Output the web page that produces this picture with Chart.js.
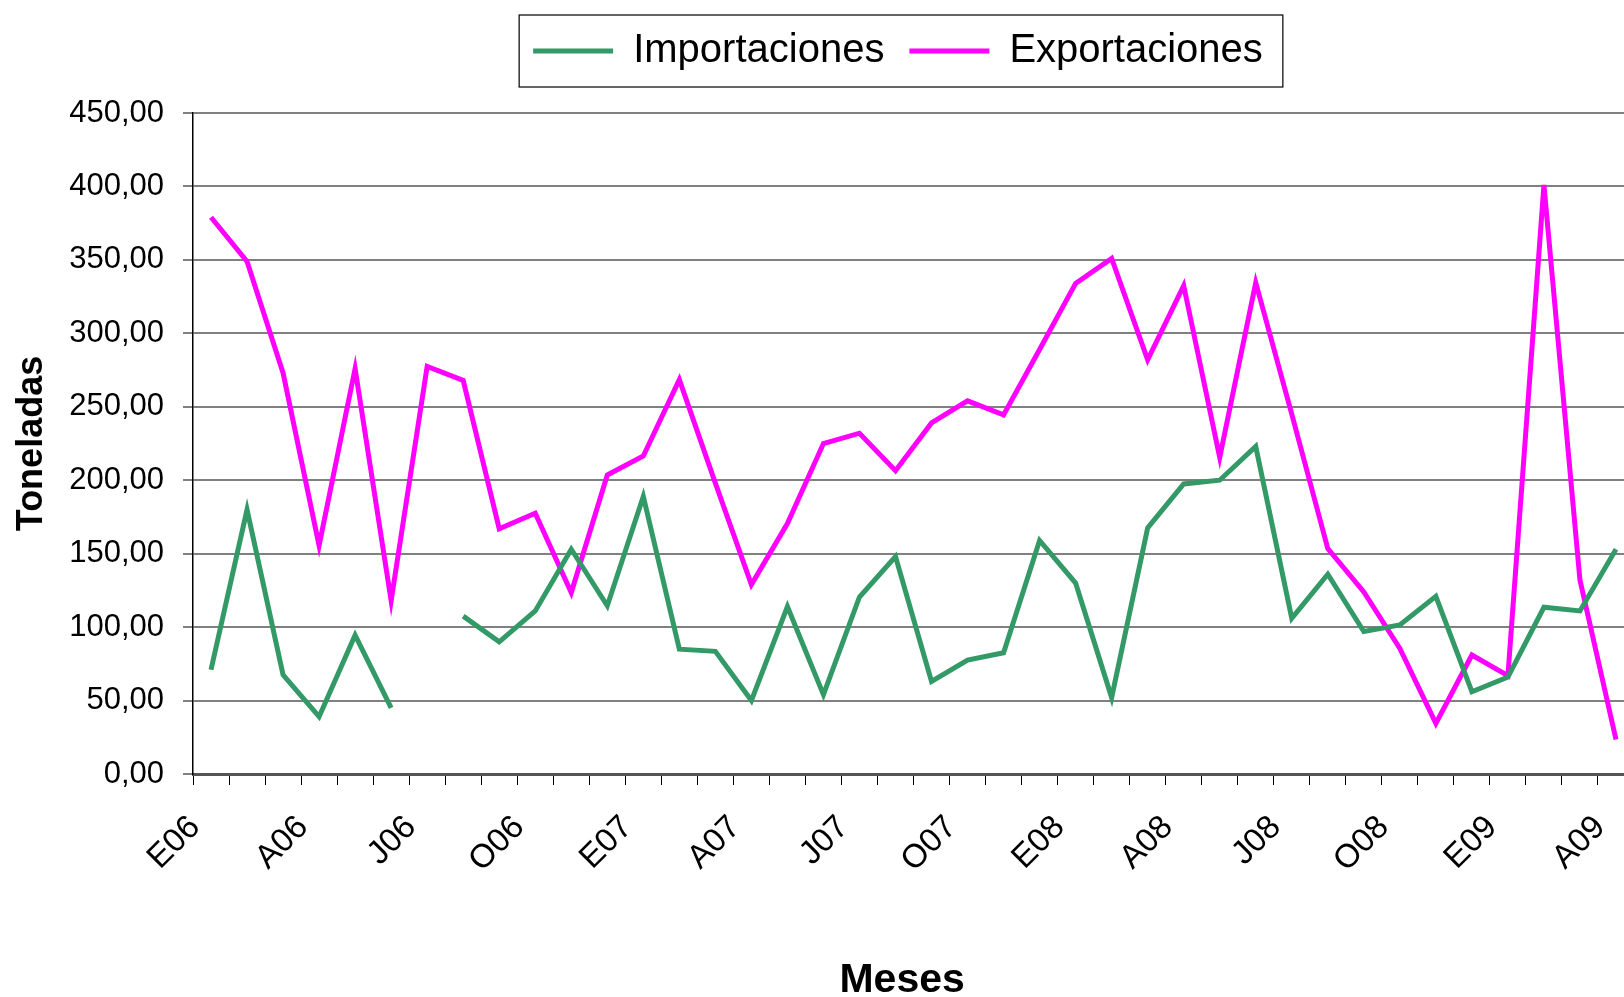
<!DOCTYPE html>
<html>
<head>
<meta charset="utf-8">
<script src="https://cdn.jsdelivr.net/npm/chart.js@4.4.0/dist/chart.umd.min.js"></script>
<style>
  html, body { margin: 0; padding: 0; overflow: hidden; background: #fff; }
  #wrap { width: 1634px; height: 997px; }
</style>
</head>
<body>
<div id="wrap"><canvas id="grafico" width="1634" height="997"></canvas></div>
<script>
// meses: enero 2006 .. abril 2009
const meses = [
  'E06','F06','M06','A06','M06','J06','J06','A06','S06','O06','N06','D06',
  'E07','F07','M07','A07','M07','J07','J07','A07','S07','O07','N07','D07',
  'E08','F08','M08','A08','M08','J08','J08','A08','S08','O08','N08','D08',
  'E09','F09','M09','A09'
];

// toneladas
const importaciones = [
  71, 180, 67.5, 39, 94.5, 45, null, 107.5, 90, 111, 153, 114.5,
  189, 85, 83.5, 50, 114, 54, 120.5, 148, 63, 77.5, 82.5, 159,
  130, 52, 167.5, 197.5, 200, 223, 106, 136, 97, 101.5, 121, 56,
  66, 113.5, 111, 153
];
const exportaciones = [
  379, 349, 273, 155.5, 276, 118, 277.5, 268, 167, 177.5, 123.5, 203.5,
  216.5, 268.5, 198, 129, 170.5, 225, 232, 206.5, 239, 254, 244.5, 289,
  334, 351, 282, 332.5, 215.5, 334.5, 245, 153.5, 124, 85.5, 34.5, 81,
  67, 401, 132, 23.5
];

const ejeY = { min: 0, max: 450, paso: 50 };

Chart.defaults.font.family = 'Arial, "Liberation Sans", sans-serif';
Chart.defaults.color = '#000';

// caja de la leyenda, movida a su sitio
const cajaLeyenda = {
  id: 'cajaLeyenda',
  afterLayout(chart) {
    const lg = chart.legend;
    const dx = 898 - (lg.left + lg.right) / 2;
    lg.left += dx; lg.right += dx;
    lg.top -= 32; lg.bottom -= 32;
  },
  afterDraw(chart) {
    const hb = chart.legend.legendHitBoxes;
    if (!hb || !hb.length) return;
    let l = Infinity, r = -Infinity, t = hb[0].top, h = hb[0].height;
    hb.forEach(b => { l = Math.min(l, b.left); r = Math.max(r, b.left + b.width); });
    const ctx = chart.ctx;
    ctx.save();
    ctx.strokeStyle = '#000';
    ctx.lineWidth = 1.2;
    const cy = t + h / 2;
    ctx.strokeRect(l - 14, cy - 36, r - l + 34, 72);
    ctx.restore();
  }
};

const ctx = document.getElementById('grafico').getContext('2d');
new Chart(ctx, {
  type: 'line',
  data: {
    labels: meses,
    datasets: [{
      label: 'Importaciones',
      data: importaciones,
      borderColor: '#339966',
      backgroundColor: '#339966',
      borderWidth: 5,
      pointRadius: 0,
      tension: 0,
      spanGaps: false
    }, {
      label: 'Exportaciones',
      data: exportaciones,
      borderColor: '#ff00ff',
      backgroundColor: '#ff00ff',
      borderWidth: 5,
      pointRadius: 0,
      tension: 0
    }]
  },
  options: {
    responsive: false,
    animation: false,
    layout: { padding: { top: 38, left: 0, right: 0, bottom: 0 } },
    plugins: {
      legend: {
        position: 'top',
        fullSize: false,
        labels: {
          usePointStyle: true,
          pointStyle: 'line',
          pointStyleWidth: 80,
          padding: 25,
          font: { size: 40 },
          color: '#000'
        }
      },
      tooltip: { enabled: false }
    },
    scales: {
      x: {
        offset: true,
        grid: { offset: true, drawOnChartArea: false, tickLength: 11, color: '#000', lineWidth: 1 },
        border: { color: '#555', width: 3 },
        ticks: {
          autoSkip: false,
          minRotation: 45,
          maxRotation: 45,
          padding: 23,
          labelOffset: -16,
          font: { size: 33 },
          color: '#000',
          callback: (v, i) => (i % 3 === 0 ? meses[i] : '')
        },
        title: {
          display: true,
          text: 'Meses  ',
          font: { size: 41, weight: 'bold', lineHeight: 0.8 },
          color: '#000',
          padding: 0
        },
        afterFit: s => { s.height = 223; s.paddingRight = 0; s.paddingLeft = 0; }
      },
      y: {
        min: ejeY.min,
        max: ejeY.max,
        ticks: {
          stepSize: ejeY.paso,
          padding: 19,
          font: { size: 31 },
          color: '#000',
          callback: v => v.toFixed(2).replace('.', ',')
        },
        grid: { color: '#808080', lineWidth: 2, tickLength: 10 },
        border: { color: '#000', width: 1.5 },
        title: {
          display: true,
          text: 'Toneladas',
          font: { size: 36, weight: 'bold', lineHeight: 1.2 },
          color: '#000',
          padding: { top: 10, bottom: 0 }
        },
        afterFit: s => { s.width = 193; s.paddingTop = 0; s.paddingBottom = 0; }
      }
    }
  },
  plugins: [cajaLeyenda]
});
</script>
</body>
</html>
